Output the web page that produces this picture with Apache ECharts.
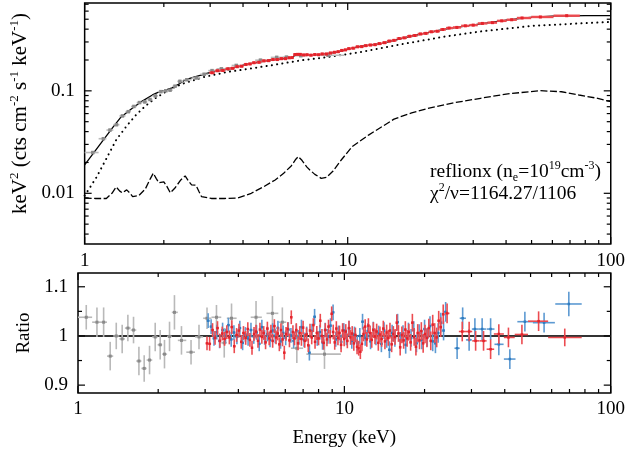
<!DOCTYPE html>
<html>
<head>
<meta charset="utf-8">
<script src="https://cdn.jsdelivr.net/npm/echarts@6/dist/echarts.min.js"></script>
<style>
  html, body { margin: 0; padding: 0; background: #fff; }
  #chart { width: 628px; height: 454px; }
</style>
</head>
<body>
<div id="chart"></div>
<script>
// ---------------- model curves (E in keV, E^2 F in keV^2 cts cm^-2 s^-1 keV^-1) ----------------
const totalE = [1.0, 1.1, 1.2, 1.284, 1.376, 1.5, 1.65, 1.81, 1.9, 2.0, 2.15, 2.3, 2.41, 2.6, 2.86, 3.04, 3.4, 4.16, 5.09, 5.6, 6.09, 6.2, 6.35, 6.6, 7.0, 7.83, 9.0, 11.0, 13.5, 17.5, 22.7, 24.1, 32, 40, 49.4, 60, 80, 100];
const totalFlux = [0.0189, 0.0262, 0.0353, 0.0444, 0.0556, 0.066, 0.079, 0.0912, 0.0965, 0.1005, 0.107, 0.118, 0.128, 0.136, 0.146, 0.152, 0.160, 0.182, 0.200, 0.205, 0.210, 0.213, 0.229, 0.226, 0.224, 0.226, 0.237, 0.270, 0.291, 0.343, 0.393, 0.405, 0.450, 0.490, 0.522, 0.537, 0.543, 0.543];

const contE = [1.0, 1.05, 1.11, 1.2, 1.318, 1.45, 1.566, 1.7, 1.861, 2.1, 2.35, 2.6, 2.86, 3.5, 4.2, 5.09, 6.0, 6.78, 8.0, 11, 16, 23.3, 32, 50, 70, 100];
const contFlux = [0.0095, 0.0115, 0.0144, 0.021, 0.0332, 0.046, 0.058, 0.071, 0.085, 0.103, 0.117, 0.127, 0.137, 0.153, 0.164, 0.177, 0.190, 0.200, 0.210, 0.237, 0.285, 0.338, 0.380, 0.430, 0.450, 0.470];

const reflE = [1.0, 1.1, 1.209, 1.27, 1.318, 1.36, 1.39, 1.445, 1.49, 1.522, 1.607, 1.7, 1.78, 1.823, 1.87, 1.914, 2.0, 2.05, 2.117, 2.2, 2.32, 2.41, 2.48, 2.55, 2.65, 2.72, 2.78, 3.03, 3.4, 3.82, 4.3, 4.8, 5.3, 5.71, 6.1, 6.35, 6.49, 6.7, 7.0, 7.18, 7.5, 7.93, 8.3, 8.8, 9.5, 10.4, 12.0, 13.5, 15, 17.5, 20, 25, 32, 40, 53.8, 65, 75.7, 88, 100];
const reflFlux = [0.0090, 0.0089, 0.0089, 0.0100, 0.01153, 0.0105, 0.0101, 0.0108, 0.0100, 0.0093, 0.0095, 0.0110, 0.0140, 0.0157, 0.0140, 0.0127, 0.0129, 0.0118, 0.0101, 0.0112, 0.0135, 0.01476, 0.0132, 0.0121, 0.0120, 0.0104, 0.0093, 0.0089, 0.0089, 0.0090, 0.0100, 0.01162, 0.0135, 0.0157, 0.0185, 0.0215, 0.0228, 0.0210, 0.0180, 0.0169, 0.0153, 0.0140, 0.0143, 0.0165, 0.0215, 0.0286, 0.0370, 0.0447, 0.053, 0.061, 0.067, 0.076, 0.0846, 0.093, 0.1004, 0.098, 0.0911, 0.085, 0.0784];

// ---------------- unfolded spectra: [E, flux, err, (binLo, binHi)] ----------------
const graySpec = [
  [1.074, 0.0250, 0.0007, 1.0, 1.13], [1.178, 0.0341, 0.0010, 1.13, 1.21], [1.248, 0.0414, 0.0012, 1.21, 1.285],
  [1.321, 0.0467, 0.0014, 1.285, 1.356], [1.392, 0.0569, 0.0016, 1.356, 1.43], [1.465, 0.0626, 0.0018, 1.43, 1.50],
  [1.539, 0.0704, 0.0019, 1.50, 1.577], [1.616, 0.0768, 0.0021, 1.577, 1.655], [1.693, 0.0780, 0.0023, 1.655, 1.73],
  [1.772, 0.0824, 0.0024, 1.73, 1.81], [1.856, 0.0893, 0.0026, 1.81, 1.90], [1.949, 0.0982, 0.0028, 1.90, 1.99],
  [2.035, 0.1002, 0.0030, 1.99, 2.07], [2.112, 0.1015, 0.0030, 2.07, 2.16], [2.206, 0.1110, 0.0033, 2.16, 2.25],
  [2.302, 0.1237, 0.0043, 2.25, 2.37], [2.446, 0.1283, 0.0037, 2.37, 2.55], [2.657, 0.1335, 0.0034, 2.55, 2.75],
  [2.846, 0.1452, 0.0036, 2.75, 2.95], [3.05, 0.1575, 0.0035, 2.95, 3.17], [3.31, 0.1640, 0.0041, 3.17, 3.45],
  [3.54, 0.1630, 0.0049, 3.45, 3.62], [3.77, 0.1770, 0.0053, 3.62, 3.94], [4.66, 0.1992, 0.0066, 4.45, 4.9],
  [5.37, 0.2121, 0.0074, 5.1, 5.65], [5.85, 0.2133, 0.0064, 5.65, 6.05], [6.63, 0.2203, 0.0066, 6.3, 7.0],
  [8.42, 0.2225, 0.0067, 7.2, 9.7]
];
const redSpec = [
  [3.05, 0.150, 0.003], [3.2, 0.157, 0.003], [3.35, 0.158, 0.003], [3.5, 0.164, 0.003], [3.65, 0.166, 0.003],
  [3.8, 0.172, 0.003], [3.95, 0.174, 0.003], [4.1, 0.181, 0.003], [4.25, 0.183, 0.003], [4.4, 0.188, 0.003],
  [4.6, 0.190, 0.003], [4.8, 0.196, 0.003], [5.0, 0.197, 0.003], [5.2, 0.202, 0.003], [5.4, 0.202, 0.003],
  [5.6, 0.206, 0.003], [5.8, 0.206, 0.003], [6.0, 0.210, 0.003], [6.15, 0.211, 0.003], [6.3, 0.226, 0.003],
  [6.45, 0.227, 0.003], [6.6, 0.227, 0.003], [6.8, 0.224, 0.003], [7.0, 0.225, 0.003], [7.25, 0.223, 0.003],
  [7.5, 0.226, 0.003], [7.75, 0.225, 0.003], [8.0, 0.229, 0.003], [8.3, 0.229, 0.003], [8.6, 0.234, 0.003],
  [8.9, 0.238, 0.004], [9.2, 0.241, 0.004], [9.5, 0.248, 0.004], [9.8, 0.251, 0.004], [10.1, 0.258, 0.004],
  [10.5, 0.261, 0.004], [10.9, 0.269, 0.004], [11.3, 0.270, 0.004], [11.7, 0.276, 0.004], [12.2, 0.280, 0.004],
  [12.7, 0.282, 0.004], [13.2, 0.289, 0.005], [13.8, 0.295, 0.005], [14.4, 0.306, 0.005], [15.0, 0.311, 0.005],
  [15.7, 0.324, 0.005], [16.4, 0.329, 0.005], [17.2, 0.341, 0.006], [18.0, 0.347, 0.006], [18.9, 0.359, 0.006],
  [19.8, 0.364, 0.006], [20.8, 0.377, 0.007], [21.9, 0.382, 0.007], [23.0, 0.397, 0.007], [24.3, 0.410, 0.008],
  [26.0, 0.416, 0.008], [28.0, 0.431, 0.008], [30.0, 0.438, 0.009], [32.5, 0.455, 0.009], [35.5, 0.463, 0.009],
  [38.5, 0.482, 0.010], [42.0, 0.494, 0.010], [46.0, 0.514, 0.010], [54.0, 0.526, 0.010], [68.0, 0.541, 0.010]
];

// ---------------- data / model ratios: [E, ratio, err, (binLo, binHi)] ----------------
const grayRatio = [
  [1.074, 1.038, 0.025, 1.0, 1.13], [1.178, 1.028, 0.030, 1.13, 1.21], [1.248, 1.028, 0.030, 1.21, 1.285],
  [1.321, 0.959, 0.029, 1.285, 1.356], [1.392, 1.000, 0.027, 1.356, 1.43], [1.465, 0.994, 0.029, 1.43, 1.50],
  [1.539, 1.016, 0.027, 1.50, 1.577], [1.616, 1.012, 0.027, 1.577, 1.655], [1.693, 0.949, 0.029, 1.655, 1.73],
  [1.772, 0.934, 0.027, 1.73, 1.81], [1.856, 0.951, 0.029, 1.81, 1.90], [1.949, 0.998, 0.029, 1.90, 1.99],
  [2.035, 0.982, 0.030, 1.99, 2.07], [2.112, 0.963, 0.029, 2.07, 2.16], [2.206, 0.999, 0.030, 2.16, 2.25],
  [2.302, 1.048, 0.035, 2.25, 2.37], [2.446, 0.991, 0.029, 2.37, 2.55], [2.657, 0.967, 0.025, 2.55, 2.75],
  [2.846, 0.998, 0.025, 2.75, 2.95], [3.05, 1.036, 0.022, 2.95, 3.17], [3.31, 1.038, 0.025, 3.17, 3.45],
  [3.54, 0.986, 0.030, 3.45, 3.62], [3.77, 1.036, 0.030, 3.62, 3.94], [4.66, 1.038, 0.033, 4.45, 4.9],
  [5.37, 1.046, 0.035, 5.1, 5.65], [5.85, 1.028, 0.030, 5.65, 6.05], [6.63, 0.975, 0.030, 6.3, 7.0],
  [8.42, 0.963, 0.030, 7.2, 9.7]
];
const blueRatio = [
  [3.08, 1.031, 0.015], [3.16, 1.019, 0.015], [3.24, 0.995, 0.015], [3.32, 1.008, 0.015], [3.40, 0.990, 0.015],
  [3.49, 1.012, 0.015], [3.58, 1.000, 0.015], [3.67, 1.022, 0.015], [3.76, 0.993, 0.015], [3.85, 1.007, 0.015],
  [3.95, 0.998, 0.015], [4.05, 1.016, 0.015], [4.15, 0.986, 0.015], [4.25, 1.003, 0.015], [4.35, 0.995, 0.015],
  [4.46, 1.012, 0.015], [4.57, 0.999, 0.015], [4.68, 1.007, 0.015], [4.79, 0.984, 0.015], [4.90, 1.018, 0.015],
  [5.02, 0.997, 0.015], [5.14, 1.004, 0.015], [5.26, 0.992, 0.015], [5.38, 1.011, 0.015], [5.50, 1.000, 0.015],
  [5.63, 1.016, 0.015], [5.76, 0.989, 0.015], [5.89, 1.006, 0.015], [6.02, 0.996, 0.015], [6.16, 1.013, 0.015],
  [6.30, 1.001, 0.015], [6.45, 0.990, 0.015], [6.60, 1.009, 0.015], [6.75, 0.997, 0.015], [6.90, 1.018, 0.015],
  [7.06, 0.992, 0.015], [7.22, 1.004, 0.015], [7.39, 0.966, 0.016], [7.56, 1.010, 0.015], [7.73, 1.039, 0.016],
  [7.91, 0.995, 0.015], [8.09, 1.008, 0.015], [8.28, 0.987, 0.015], [8.47, 1.012, 0.015], [8.67, 0.999, 0.015],
  [8.87, 1.021, 0.015], [9.07, 1.048, 0.016], [9.28, 0.993, 0.015], [9.50, 1.006, 0.015], [9.72, 0.988, 0.015],
  [9.95, 1.011, 0.015], [10.18, 0.997, 0.016], [10.42, 1.015, 0.016], [10.66, 0.990, 0.016], [10.91, 1.003, 0.016],
  [11.17, 0.985, 0.016], [11.43, 1.000, 0.016], [11.70, 1.029, 0.016], [11.97, 0.996, 0.016], [12.25, 1.010, 0.016],
  [12.54, 0.989, 0.016], [12.84, 1.013, 0.016], [13.14, 0.997, 0.016], [13.45, 1.005, 0.016], [13.77, 0.984, 0.017],
  [14.09, 1.011, 0.017], [14.42, 0.993, 0.017], [14.76, 0.972, 0.017], [15.11, 1.006, 0.017], [15.47, 0.995, 0.017],
  [15.84, 1.028, 0.017], [16.21, 0.991, 0.017], [16.60, 1.004, 0.018], [16.99, 0.982, 0.018], [17.39, 1.009, 0.018],
  [17.80, 0.996, 0.018], [18.22, 1.012, 0.018], [18.65, 0.985, 0.018], [19.09, 1.005, 0.019], [19.54, 0.992, 0.019],
  [20.00, 1.014, 0.019], [20.47, 0.997, 0.019], [20.96, 1.020, 0.020], [21.46, 0.989, 0.020], [21.97, 0.985, 0.020],
  [22.49, 1.006, 0.020], [23.02, 1.027, 0.020], [23.57, 1.011, 0.020]
];
const blueRatioWide = [
  [24.0, 1.049, 0.020, 23.6, 24.5], [26.5, 0.975, 0.022, 25.9, 27.1], [27.8, 1.036, 0.022, 27.1, 28.6],
  [29.4, 0.992, 0.022, 28.6, 30.1], [30.9, 1.014, 0.022, 30.1, 31.8], [32.9, 1.014, 0.022, 31.8, 34.0],
  [35.4, 1.014, 0.022, 34.2, 36.6], [38.0, 0.983, 0.022, 36.6, 39.6], [41.8, 0.953, 0.020, 39.7, 43.9],
  [47.6, 1.029, 0.020, 44.6, 51.0], [56.2, 1.027, 0.020, 51.0, 61.7], [69.6, 1.065, 0.025, 61.9, 77.8]
];
const redRatio = [
  [3.05, 0.985, 0.014], [3.12, 0.984, 0.014], [3.20, 1.012, 0.014], [3.27, 0.996, 0.014], [3.34, 1.016, 0.014],
  [3.41, 0.990, 0.014], [3.48, 1.005, 0.014], [3.55, 0.994, 0.014], [3.62, 1.008, 0.014], [3.70, 0.997, 0.014],
  [3.78, 1.018, 0.014], [3.86, 0.979, 0.014], [3.94, 1.002, 0.014], [4.02, 1.011, 0.014], [4.10, 0.988, 0.014],
  [4.18, 1.006, 0.014], [4.26, 0.996, 0.014], [4.34, 1.014, 0.014], [4.42, 0.992, 0.014], [4.50, 0.976, 0.014],
  [4.58, 1.004, 0.014], [4.66, 1.009, 0.014], [4.74, 0.990, 0.014], [4.82, 1.013, 0.014], [4.90, 0.998, 0.014],
  [4.98, 1.006, 0.014], [5.06, 0.987, 0.014], [5.14, 1.015, 0.014], [5.22, 0.995, 0.014], [5.30, 1.009, 0.014],
  [5.38, 0.990, 0.014], [5.46, 1.020, 0.014], [5.54, 0.997, 0.014], [5.62, 1.005, 0.014], [5.70, 0.983, 0.014],
  [5.78, 1.012, 0.014], [5.86, 0.993, 0.014], [5.95, 0.966, 0.014], [6.04, 1.004, 0.014], [6.13, 1.014, 0.014],
  [6.22, 0.991, 0.014], [6.32, 1.038, 0.014], [6.41, 1.008, 0.014], [6.50, 0.995, 0.014], [6.60, 1.012, 0.014],
  [6.70, 0.985, 0.014], [6.80, 1.006, 0.014], [6.90, 0.994, 0.014], [7.00, 1.017, 0.014], [7.10, 0.990, 0.014],
  [7.21, 1.003, 0.014], [7.32, 0.981, 0.014], [7.43, 1.011, 0.014], [7.54, 0.997, 0.014], [7.65, 1.022, 0.014],
  [7.76, 0.988, 0.014], [7.88, 1.006, 0.014], [8.00, 0.995, 0.014], [8.12, 1.031, 0.014], [8.24, 1.000, 0.014],
  [8.36, 0.986, 0.014], [8.48, 1.012, 0.014], [8.60, 0.993, 0.014], [8.72, 1.019, 0.014], [8.84, 0.998, 0.014],
  [8.96, 1.045, 0.015], [9.08, 1.008, 0.015], [9.20, 0.987, 0.015], [9.33, 1.015, 0.015], [9.46, 0.996, 0.015],
  [9.59, 1.006, 0.015], [9.72, 0.982, 0.015], [9.85, 1.011, 0.015], [9.98, 0.994, 0.015], [10.12, 1.009, 0.015],
  [10.26, 0.990, 0.015], [10.40, 1.016, 0.015], [10.55, 0.997, 0.015], [10.70, 1.005, 0.015], [10.85, 0.985, 0.015],
  [11.00, 1.002, 0.015], [11.16, 0.978, 0.015], [11.32, 0.975, 0.015], [11.48, 0.968, 0.015], [11.64, 0.984, 0.015],
  [11.80, 1.004, 0.015], [11.97, 1.019, 0.015], [12.14, 0.993, 0.015], [12.31, 1.021, 0.015], [12.49, 1.006, 0.015],
  [12.67, 0.992, 0.016], [12.85, 1.012, 0.016], [13.03, 0.999, 0.016], [13.22, 1.009, 0.016], [13.41, 0.986, 0.016],
  [13.60, 1.003, 0.016], [13.80, 0.994, 0.016], [14.00, 1.015, 0.016], [14.20, 0.989, 0.016], [14.41, 1.007, 0.016],
  [14.62, 0.996, 0.016], [14.83, 1.011, 0.016], [15.05, 0.983, 0.016], [15.27, 1.004, 0.016], [15.50, 0.998, 0.016],
  [15.73, 1.027, 0.017], [15.96, 1.005, 0.017], [16.20, 0.977, 0.017], [16.44, 1.002, 0.017], [16.69, 0.991, 0.017],
  [16.94, 1.013, 0.017], [17.20, 0.995, 0.017], [17.46, 1.008, 0.017], [17.73, 0.987, 0.017], [18.00, 1.027, 0.018],
  [18.28, 0.998, 0.018], [18.56, 0.978, 0.018], [18.85, 1.006, 0.018], [19.15, 0.991, 0.018], [19.45, 1.010, 0.018],
  [19.76, 0.985, 0.019], [20.08, 1.004, 0.019], [20.41, 0.996, 0.019], [20.75, 1.016, 0.019], [21.10, 0.990, 0.019],
  [21.46, 1.023, 0.020], [21.83, 1.006, 0.020], [22.21, 0.997, 0.020], [22.60, 1.031, 0.020], [23.00, 1.018, 0.020],
  [23.50, 1.044, 0.020]
];
const redRatioWide = [
  [24.3, 1.046, 0.020, 23.9, 24.8], [27.7, 1.009, 0.020, 26.9, 28.6], [29.4, 1.009, 0.020, 28.6, 30.2],
  [31.1, 0.990, 0.020, 30.2, 32.2], [33.3, 0.990, 0.020, 32.3, 34.2], [35.4, 0.973, 0.020, 34.2, 36.5],
  [38.0, 1.004, 0.020, 36.4, 39.7], [41.3, 0.997, 0.020, 39.7, 43.6], [46.4, 1.003, 0.020, 43.6, 48.9],
  [53.6, 1.030, 0.020, 48.9, 58.2], [67.2, 0.997, 0.018, 58.2, 77.8]
];

// ---------------- axis ticks and labels ----------------
const energyMajor = [1, 10, 100];
const energyMinor = [2, 3, 4, 5, 6, 7, 8, 9, 20, 30, 40, 50, 60, 70, 80, 90];
const energyLabels = ['1', '10', '100'];
const fluxMajor = [0.01, 0.1];
const fluxMinor = [0.004, 0.005, 0.006, 0.007, 0.008, 0.009, 0.02, 0.03, 0.04, 0.05, 0.06, 0.07, 0.08, 0.09, 0.2, 0.3, 0.4, 0.5, 0.6, 0.7];
const fluxLabels = ['0.01', '0.1'];
const ratioMajor = [0.9, 1.0, 1.1];
const ratioMinor = [0.95, 1.05];
const ratioLabels = ['0.9', '1', '1.1'];

// ---------------- helpers ----------------
const SERIF = '"Liberation Serif", "Times New Roman", Times, serif';
const FS = 19;

function pairs(xs, ys) { return xs.map((x, i) => [x, ys[i]]); }

// rows -> [E, y, binLo, binHi, yLo, yHi]; bins default to the geometric midpoints between neighbours
function withBins(rows) {
  return rows.map((r, i) => {
    if (r.length >= 5) return [r[0], r[1], r[3], r[4], r[1] - r[2], r[1] + r[2]];
    const prev = i > 0 ? rows[i - 1][0] : null;
    const next = i < rows.length - 1 ? rows[i + 1][0] : null;
    const hi = next ? Math.sqrt(r[0] * next) : r[0] * r[0] / Math.sqrt(r[0] * prev);
    const lo = prev ? Math.sqrt(r[0] * prev) : r[0] * r[0] / hi;
    return [r[0], r[1], lo, hi, r[1] - r[2], r[1] + r[2]];
  });
}

function labelFor(values, labels) {
  return function (v) {
    for (let i = 0; i < values.length; i++) {
      if (Math.abs(v - values[i]) <= Math.abs(values[i]) * 1e-6) return labels[i];
    }
    return '';
  };
}

function errorBars(barColor, dotColor, dot, width) {
  return function (params, api) {
    const E = api.value(0), v = api.value(1);
    const c = api.coord([E, v]);
    const a = api.coord([api.value(2), v]);
    const b = api.coord([api.value(3), v]);
    const d = api.coord([E, api.value(4)]);
    const u = api.coord([E, api.value(5)]);
    return {
      type: 'group',
      children: [
        { type: 'line', shape: { x1: a[0], y1: c[1], x2: b[0], y2: c[1] }, style: { stroke: barColor, lineWidth: width } },
        { type: 'line', shape: { x1: c[0], y1: d[1], x2: c[0], y2: u[1] }, style: { stroke: barColor, lineWidth: width } },
        { type: 'rect', shape: { x: c[0] - dot / 2, y: c[1] - dot / 2, width: dot, height: dot }, style: { fill: dotColor } }
      ]
    };
  };
}

// tick rows: [x, y, kind (0 = energy tick, 1 = vertical-axis tick), length]
function tickRows(yMajor, yMinor, yRef) {
  const rows = [];
  energyMajor.forEach(v => rows.push([v, yRef, 0, 7]));
  energyMinor.forEach(v => rows.push([v, yRef, 0, 4]));
  yMajor.forEach(v => rows.push([10, v, 1, 7]));
  yMinor.forEach(v => rows.push([10, v, 1, 4]));
  return rows;
}

function drawTicks(params, api) {
  const cs = params.coordSys;
  const kind = api.value(2), len = api.value(3);
  const p = api.coord([api.value(0), api.value(1)]);
  const st = { stroke: '#000', lineWidth: 1.2 };
  if (kind === 0) {
    return { type: 'group', children: [
      { type: 'line', shape: { x1: p[0], y1: cs.y + cs.height, x2: p[0], y2: cs.y + cs.height - len }, style: st },
      { type: 'line', shape: { x1: p[0], y1: cs.y, x2: p[0], y2: cs.y + len }, style: st }
    ] };
  }
  return { type: 'group', children: [
    { type: 'line', shape: { x1: cs.x, y1: p[1], x2: cs.x + len, y2: p[1] }, style: st },
    { type: 'line', shape: { x1: cs.x + cs.width, y1: p[1], x2: cs.x + cs.width - len, y2: p[1] }, style: st }
  ] };
}

const RED = '#e4232b', RED_BAR = '#ec4b50';
const BLUE = '#2f7cc0', BLUE_BAR = '#5d9ad2';
const GRAY = '#8a8a8a', GRAY_BAR = '#b9b9b9';

function richSet(size, supSize) {
  return {
    a: { fontFamily: SERIF, fontSize: size, lineHeight: 24, color: '#000' },
    s: { fontFamily: SERIF, fontSize: supSize, lineHeight: 14, verticalAlign: 'top', color: '#000' },
    b: { fontFamily: SERIF, fontSize: supSize, lineHeight: 14, verticalAlign: 'bottom', color: '#000' }
  };
}

const axisLabelBase = { fontFamily: SERIF, fontSize: FS, color: '#000' };

const chart = echarts.init(document.getElementById('chart'), null, { renderer: 'canvas' });

chart.setOption({
  animation: false,
  backgroundColor: '#fff',
  grid: [
    { left: 78, top: 3, width: 534, height: 241, show: true, borderColor: '#000', borderWidth: 1.5, backgroundColor: 'transparent' },
    { left: 78, top: 273, width: 534, height: 120, show: true, borderColor: '#000', borderWidth: 1.5, backgroundColor: 'transparent' }
  ],
  xAxis: [
    {
      type: 'log', logBase: 10, min: 1, max: 100, gridIndex: 0,
      axisLine: { show: false }, axisTick: { show: false }, splitLine: { show: false },
      axisLabel: Object.assign({ margin: 8, formatter: labelFor(energyMajor, energyLabels) }, axisLabelBase)
    },
    {
      type: 'log', logBase: 10, min: 1, max: 100, gridIndex: 1,
      axisLine: { show: false }, axisTick: { show: false }, splitLine: { show: false },
      axisLabel: Object.assign({ margin: 7, formatter: labelFor(energyMajor, energyLabels) }, axisLabelBase),
      name: 'Energy (keV)', nameLocation: 'middle', nameGap: 36,
      nameTextStyle: { fontFamily: SERIF, fontSize: FS, color: '#000' }
    }
  ],
  yAxis: [
    {
      type: 'log', logBase: 10, min: 0.0032, max: 0.72, gridIndex: 0,
      axisLine: { show: false }, axisTick: { show: false }, splitLine: { show: false },
      axisLabel: Object.assign({ margin: 10, formatter: labelFor(fluxMajor, fluxLabels) }, axisLabelBase),
      name: '{a|keV}{s|2}{a| (cts cm}{s|-2}{a| s}{s|-1}{a| keV}{s|-1}{a|)}',
      nameLocation: 'middle', nameGap: 42, nameRotate: 90,
      nameTextStyle: { fontFamily: SERIF, fontSize: 21, color: '#000', rich: richSet(21, 13), padding: [0, 0, 0, 20] }
    },
    {
      type: 'value', min: 0.884, max: 1.128, splitNumber: 5, gridIndex: 1,
      axisLine: { show: false }, axisTick: { show: false }, splitLine: { show: false },
      axisLabel: Object.assign({ margin: 10, formatter: labelFor(ratioMajor, ratioLabels) }, axisLabelBase),
      name: 'Ratio', nameLocation: 'middle', nameGap: 42, nameRotate: 90,
      nameTextStyle: { fontFamily: SERIF, fontSize: FS, color: '#000' }
    }
  ],
  series: [
    // upper panel: model components
    { type: 'line', xAxisIndex: 0, yAxisIndex: 0, data: pairs(totalE, totalFlux), symbol: 'none', z: 2,
      lineStyle: { color: '#000', width: 1.3 } },
    { type: 'line', xAxisIndex: 0, yAxisIndex: 0, data: pairs(contE, contFlux), symbol: 'none', z: 2,
      lineStyle: { color: '#000', width: 2, type: [0.1, 5.2], cap: 'round' } },
    { type: 'line', xAxisIndex: 0, yAxisIndex: 0, data: pairs(reflE, reflFlux), symbol: 'none', z: 2,
      lineStyle: { color: '#000', width: 1.3, type: [7, 2.5] } },
    // upper panel: unfolded data
    { type: 'custom', xAxisIndex: 0, yAxisIndex: 0, data: withBins(graySpec), z: 3,
      renderItem: errorBars(GRAY_BAR, GRAY, 3.5, 1.6) },
    { type: 'custom', xAxisIndex: 0, yAxisIndex: 0, data: withBins(redSpec), z: 4,
      renderItem: errorBars(RED_BAR, RED, 3, 2.4) },
    // lower panel: unity line and ratios
    { type: 'line', xAxisIndex: 1, yAxisIndex: 1, data: [[1, 1], [100, 1]], symbol: 'none', z: 2,
      lineStyle: { color: '#333', width: 2 } },
    { type: 'custom', xAxisIndex: 1, yAxisIndex: 1, data: withBins(grayRatio), z: 3,
      renderItem: errorBars(GRAY_BAR, GRAY, 3, 1.6) },
    { type: 'custom', xAxisIndex: 1, yAxisIndex: 1, data: withBins(blueRatio).concat(withBins(blueRatioWide)), z: 4,
      renderItem: errorBars(BLUE_BAR, BLUE, 2.5, 1.6) },
    { type: 'custom', xAxisIndex: 1, yAxisIndex: 1, data: withBins(redRatio).concat(withBins(redRatioWide)), z: 5,
      renderItem: errorBars(RED_BAR, RED, 2.5, 1.6) },
    // frame ticks
    { type: 'custom', xAxisIndex: 0, yAxisIndex: 0, data: tickRows(fluxMajor, fluxMinor, 0.05), z: 6,
      renderItem: drawTicks, clip: false, silent: true },
    { type: 'custom', xAxisIndex: 1, yAxisIndex: 1, data: tickRows(ratioMajor, ratioMinor, 1.0), z: 6,
      renderItem: drawTicks, clip: false, silent: true }
  ],
  graphic: [
    { type: 'text', left: 430, top: 160, z: 10,
      style: { text: '{a|reflionx (n}{b|e}{a|=10}{s|19}{a|cm}{s|-3}{a|)}', rich: richSet(19.5, 12) } },
    { type: 'text', left: 430, top: 182, z: 10,
      style: { text: '{a|χ}{s|2}{a|/ν=1164.27/1106}', rich: richSet(19.5, 12) } }
  ]
});
</script>
</body>
</html>
